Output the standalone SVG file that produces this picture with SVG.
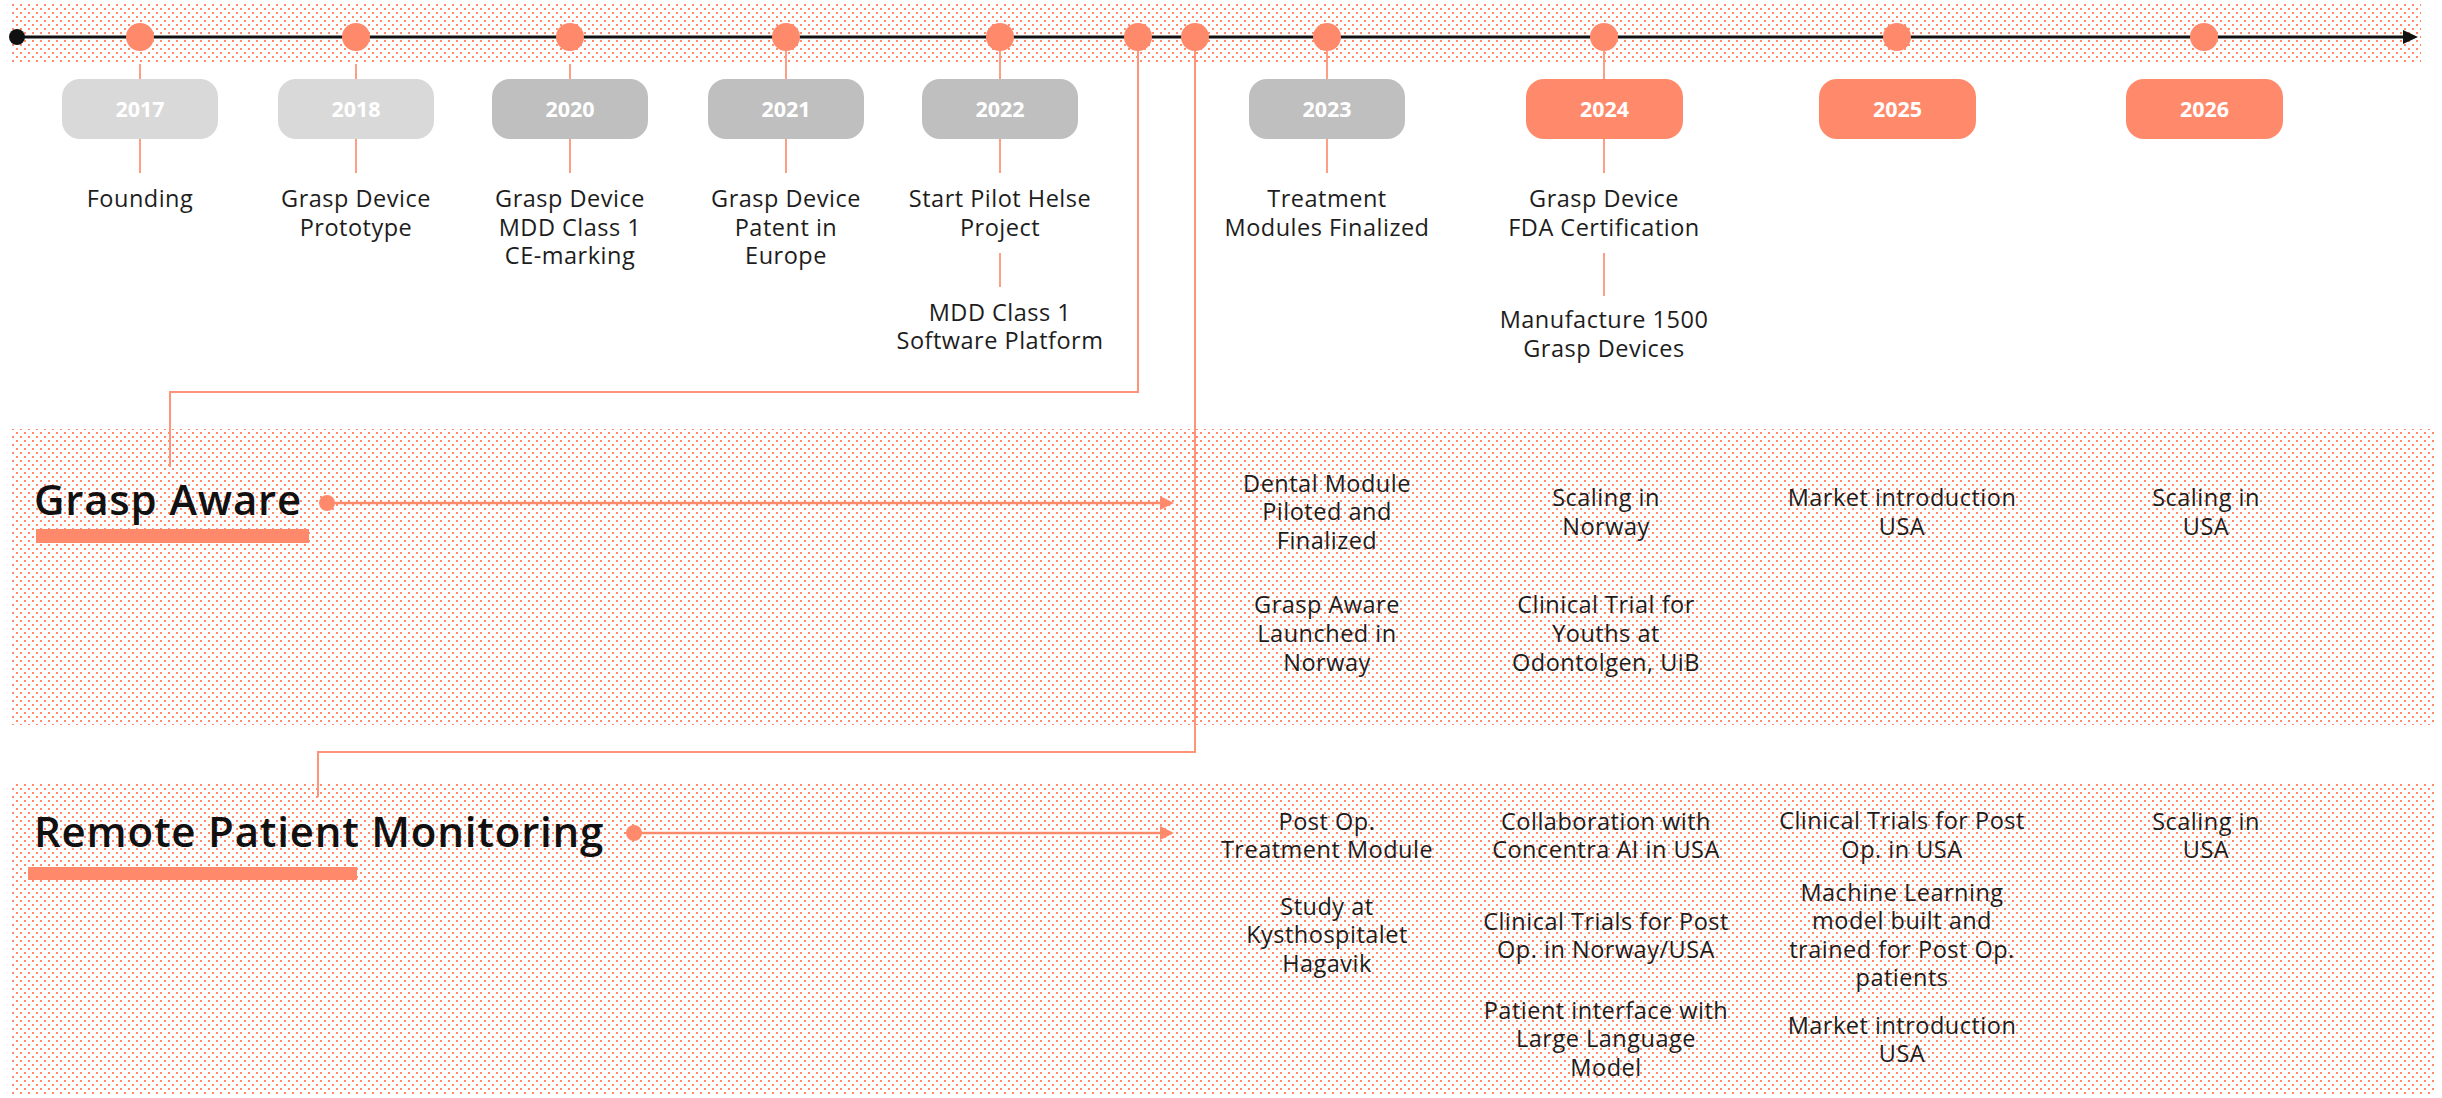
<svg xmlns="http://www.w3.org/2000/svg" width="2442" height="1098" viewBox="0 0 2442 1098">
<defs>
<pattern id="dots" x="12" y="4" width="8" height="8" patternUnits="userSpaceOnUse">
<rect x="0" y="0" width="2" height="2" fill="#FF8A6B"/>
<rect x="4" y="4" width="2" height="2" fill="#FF8A6B"/>
</pattern>
<marker id="arrBlack" markerUnits="userSpaceOnUse" markerWidth="16" markerHeight="16" viewBox="0 0 16 16" refX="2" refY="8" orient="auto">
<path d="M0,1 L15,8 L0,15 z" fill="#111111"/>
</marker>
<marker id="arrCoral" markerUnits="userSpaceOnUse" markerWidth="16" markerHeight="16" viewBox="0 0 16 16" refX="2" refY="8" orient="auto">
<path d="M0,1 L14,8 L0,15 z" fill="#FF8A6B"/>
</marker>
</defs>
<style>
.band{fill:url(#dots);}
.dot{fill:#FF8A6B;}
.box-l{fill:#D9D9D9;}
.box-d{fill:#BFBFBF;}
.box-c{fill:#FF8A6B;}
.yr{font-family:'Open Sans','Liberation Sans',sans-serif;font-weight:bold;font-size:21.5px;fill:#FFFFFF;text-anchor:middle;}
.t{font-family:'Open Sans','Liberation Sans',sans-serif;font-size:23.5px;letter-spacing:0.5px;fill:#1d1d1d;text-anchor:middle;}
.title{font-family:'Open Sans','Liberation Sans',sans-serif;font-weight:600;font-size:42px;letter-spacing:0.8px;fill:#111111;}
.bar{fill:#FF8A6B;}
.thin{stroke:#FF9478;stroke-width:1.8;fill:none;}
.link{stroke:#FF9478;stroke-width:2;fill:none;}
.track{stroke:#FF8A6B;stroke-width:2.5;fill:none;}
</style>

<!-- background bands -->
<rect class="band" x="12" y="4" width="2409" height="60"/>
<rect class="band" x="12" y="429" width="2424" height="296"/>
<rect class="band" x="12" y="783" width="2424" height="312"/>

<!-- connectors -->
<g id="connectors">
<line x1="17" y1="37" x2="2405" y2="37" stroke="#111111" stroke-width="3" marker-end="url(#arrBlack)"/>
<line class="thin" x1="140" y1="64" x2="140" y2="79"/>
<line class="thin" x1="140" y1="139" x2="140" y2="173"/>
<line class="thin" x1="356" y1="64" x2="356" y2="79"/>
<line class="thin" x1="356" y1="139" x2="356" y2="173"/>
<line class="thin" x1="570" y1="64" x2="570" y2="79"/>
<line class="thin" x1="570" y1="139" x2="570" y2="173"/>
<line class="thin" x1="786" y1="51" x2="786" y2="79"/>
<line class="thin" x1="786" y1="139" x2="786" y2="173"/>
<line class="thin" x1="1000" y1="51" x2="1000" y2="79"/>
<line class="thin" x1="1000" y1="139" x2="1000" y2="173"/>
<line class="thin" x1="1000" y1="253" x2="1000" y2="287"/>
<line class="thin" x1="1327" y1="51" x2="1327" y2="79"/>
<line class="thin" x1="1327" y1="139" x2="1327" y2="173"/>
<line class="thin" x1="1604" y1="51" x2="1604" y2="79"/>
<line class="thin" x1="1604" y1="139" x2="1604" y2="173"/>
<line class="thin" x1="1604" y1="253" x2="1604" y2="296"/>
<polyline class="link" points="1138,51 1138,392 170,392 170,467"/>
<polyline class="link" points="1195,51 1195,752 318,752 318,797"/>
<line class="track" x1="327" y1="503" x2="1162" y2="503" marker-end="url(#arrCoral)"/>
<line class="track" x1="634" y1="833" x2="1162" y2="833" marker-end="url(#arrCoral)"/>
</g>

<!-- timeline start -->
<g id="timeline-start"><circle cx="17" cy="37" r="8" fill="#111111"/></g>

<g id="m2017">
<circle class="dot" cx="140" cy="37" r="14"/>
<rect class="box-l" x="62" y="79" width="156" height="60" rx="18"/>
<text class="yr" x="140" y="117">2017</text>
<text class="t" x="140" y="207">Founding</text>
</g>
<g id="m2018">
<circle class="dot" cx="356" cy="37" r="14"/>
<rect class="box-l" x="278" y="79" width="156" height="60" rx="18"/>
<text class="yr" x="356" y="117">2018</text>
<text class="t" x="356" y="207">Grasp Device</text>
<text class="t" x="356" y="236">Prototype</text>
</g>
<g id="m2020">
<circle class="dot" cx="570" cy="37" r="14"/>
<rect class="box-d" x="492" y="79" width="156" height="60" rx="18"/>
<text class="yr" x="570" y="117">2020</text>
<text class="t" x="570" y="207">Grasp Device</text>
<text class="t" x="570" y="236">MDD Class 1</text>
<text class="t" x="570" y="264">CE-marking</text>
</g>
<g id="m2021">
<circle class="dot" cx="786" cy="37" r="14"/>
<rect class="box-d" x="708" y="79" width="156" height="60" rx="18"/>
<text class="yr" x="786" y="117">2021</text>
<text class="t" x="786" y="207">Grasp Device</text>
<text class="t" x="786" y="236">Patent in</text>
<text class="t" x="786" y="264">Europe</text>
</g>
<g id="m2022">
<circle class="dot" cx="1000" cy="37" r="14"/>
<rect class="box-d" x="922" y="79" width="156" height="60" rx="18"/>
<text class="yr" x="1000" y="117">2022</text>
<text class="t" x="1000" y="207">Start Pilot Helse</text>
<text class="t" x="1000" y="236">Project</text>
<text class="t" x="1000" y="321">MDD Class 1</text>
<text class="t" x="1000" y="349">Software Platform</text>
</g>
<g id="split-aware"><circle class="dot" cx="1138" cy="37" r="14"/></g>
<g id="split-rpm"><circle class="dot" cx="1195" cy="37" r="14"/></g>
<g id="m2023">
<circle class="dot" cx="1327" cy="37" r="14"/>
<rect class="box-d" x="1249" y="79" width="156" height="60" rx="18"/>
<text class="yr" x="1327" y="117">2023</text>
<text class="t" x="1327" y="207">Treatment</text>
<text class="t" x="1327" y="236">Modules Finalized</text>
</g>
<g id="m2024">
<circle class="dot" cx="1604" cy="37" r="14"/>
<rect class="box-c" x="1526" y="79" width="157" height="60" rx="18"/>
<text class="yr" x="1604.5" y="117">2024</text>
<text class="t" x="1604" y="207">Grasp Device</text>
<text class="t" x="1604" y="236">FDA Certification</text>
<text class="t" x="1604" y="328">Manufacture 1500</text>
<text class="t" x="1604" y="357">Grasp Devices</text>
</g>
<g id="m2025">
<circle class="dot" cx="1897" cy="37" r="14"/>
<rect class="box-c" x="1819" y="79" width="157" height="60" rx="18"/>
<text class="yr" x="1897.5" y="117">2025</text>
</g>
<g id="m2026">
<circle class="dot" cx="2204" cy="37" r="14"/>
<rect class="box-c" x="2126" y="79" width="157" height="60" rx="18"/>
<text class="yr" x="2204.5" y="117">2026</text>
</g>

<g id="grasp-aware">
<text class="title" x="34" y="515">Grasp Aware</text>
<rect class="bar" x="36" y="529" width="273" height="14"/>
<circle class="dot" cx="327" cy="503" r="8"/>
<text class="t" x="1327" y="492">Dental Module</text>
<text class="t" x="1327" y="520">Piloted and</text>
<text class="t" x="1327" y="549">Finalized</text>
<text class="t" x="1327" y="613">Grasp Aware</text>
<text class="t" x="1327" y="642">Launched in</text>
<text class="t" x="1327" y="671">Norway</text>
<text class="t" x="1606" y="506">Scaling in</text>
<text class="t" x="1606" y="535">Norway</text>
<text class="t" x="1606" y="613">Clinical Trial for</text>
<text class="t" x="1606" y="642">Youths at</text>
<text class="t" x="1606" y="671">Odontolgen, UiB</text>
<text class="t" x="1902" y="506">Market introduction</text>
<text class="t" x="1902" y="535">USA</text>
<text class="t" x="2206" y="506">Scaling in</text>
<text class="t" x="2206" y="535">USA</text>
</g>

<g id="remote-patient-monitoring">
<text class="title" x="34" y="847">Remote Patient Monitoring</text>
<rect class="bar" x="28" y="867" width="329" height="13"/>
<circle class="dot" cx="634" cy="833" r="8"/>
<text class="t" x="1327" y="830">Post Op.</text>
<text class="t" x="1327" y="858">Treatment Module</text>
<text class="t" x="1327" y="915">Study at</text>
<text class="t" x="1327" y="943">Kysthospitalet</text>
<text class="t" x="1327" y="972">Hagavik</text>
<text class="t" x="1606" y="830">Collaboration with</text>
<text class="t" x="1606" y="858">Concentra AI in USA</text>
<text class="t" x="1606" y="930">Clinical Trials for Post</text>
<text class="t" x="1606" y="958">Op. in Norway/USA</text>
<text class="t" x="1606" y="1019">Patient interface with</text>
<text class="t" x="1606" y="1047">Large Language</text>
<text class="t" x="1606" y="1076">Model</text>
<text class="t" x="1902" y="829">Clinical Trials for Post</text>
<text class="t" x="1902" y="858">Op. in USA</text>
<text class="t" x="1902" y="901">Machine Learning</text>
<text class="t" x="1902" y="929">model built and</text>
<text class="t" x="1902" y="958">trained for Post Op.</text>
<text class="t" x="1902" y="986">patients</text>
<text class="t" x="1902" y="1034">Market introduction</text>
<text class="t" x="1902" y="1062">USA</text>
<text class="t" x="2206" y="830">Scaling in</text>
<text class="t" x="2206" y="858">USA</text>
</g>
</svg>
